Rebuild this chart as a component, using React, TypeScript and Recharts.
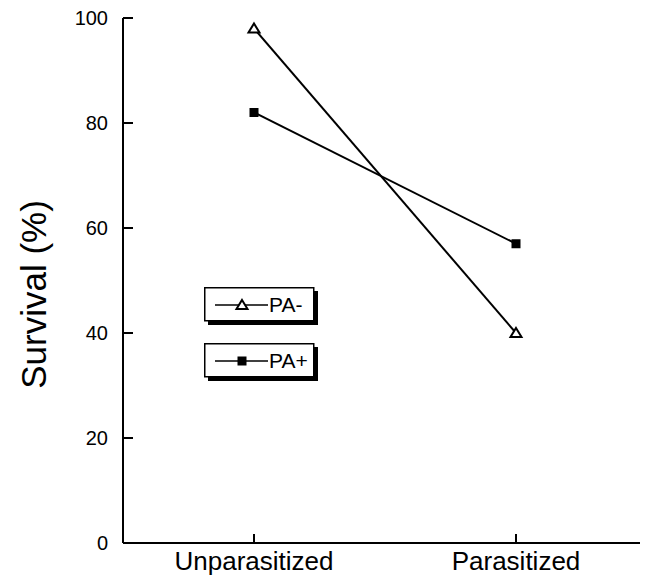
import { Line, LineChart, XAxis, YAxis } from 'recharts'

const categories = ['Unparasitized', 'Parasitized']
const paMinus = [98, 40]
const paPlus = [82, 57]
const yTicks = [0, 20, 40, 60, 80, 100]

const data = categories.map((c, i) => ({ name: c, paMinus: paMinus[i], paPlus: paPlus[i] }))

const FONT = '"Liberation Sans", Arial, Helvetica, sans-serif'

function Triangle({ cx, cy }: { cx?: number; cy?: number }) {
  if (cx == null || cy == null) return null
  return (
    <path
      d={`M${cx},${cy - 5} L${cx + 5.5},${cy + 4} L${cx - 5.5},${cy + 4} Z`}
      fill="#fff"
      stroke="#000"
      strokeWidth={2}
    />
  )
}

function Square({ cx, cy }: { cx?: number; cy?: number }) {
  if (cx == null || cy == null) return null
  return <rect x={cx - 4.5} y={cy - 4.5} width={9} height={9} fill="#000" />
}

// y ticks point inward (to the right of the axis)
function YTick({ x, y, payload }: any) {
  const axisX = x + 15
  return (
    <g>
      <line x1={axisX} y1={y} x2={axisX + 10} y2={y} stroke="#000" strokeWidth={2} />
      <text x={x} y={y} dy={7} textAnchor="end" fontSize={20} fontFamily={FONT} fill="#000">
        {payload.value}
      </text>
    </g>
  )
}

function XTick({ x, y, payload }: any) {
  return (
    <g>
      <line x1={x} y1={y} x2={x} y2={y - 9} stroke="#000" strokeWidth={2} />
      <text x={x} y={y} dy={27} textAnchor="middle" fontSize={26} fontFamily={FONT} fill="#000">
        {payload.value}
      </text>
    </g>
  )
}

function YLabel({ viewBox }: any) {
  const cy = viewBox.y + viewBox.height / 2 + 14
  return (
    <text
      x={33}
      y={cy}
      transform={`rotate(-90 33 ${cy})`}
      textAnchor="middle"
      dominantBaseline="central"
      fontSize={35}
      fontFamily={FONT}
      fill="#000"
    >
      Survival (%)
    </text>
  )
}

function LegendBox({ label, marker }: { label: string; marker: 'tri' | 'sq' }) {
  return (
    <svg width={116} height={40} style={{ display: 'block', overflow: 'visible' }}>
      <rect x={4} y={4} width={110} height={34} fill="#000" />
      <rect x={0.75} y={0.75} width={109} height={33} fill="#fff" stroke="#000" strokeWidth={1.5} />
      <line x1={11} y1={18} x2={64} y2={18} stroke="#000" strokeWidth={1.5} />
      {marker === 'tri' ? <Triangle cx={38} cy={18} /> : <Square cx={38} cy={18} />}
      <text x={65} y={25} fontSize={21} fontFamily={FONT} fill="#000">
        {label}
      </text>
    </svg>
  )
}

export default function App() {
  return (
    <div style={{ position: 'absolute', left: 0, top: 0, width: 650, height: 577, background: '#fff' }}>
      <LineChart
        width={650}
        height={577}
        data={data}
        margin={{ top: 18, right: 10, bottom: 0, left: 0 }}
      >
        <XAxis
          dataKey="name"
          height={34}
          padding={{ left: 131, right: 124 }}
          axisLine={{ stroke: '#000', strokeWidth: 2 }}
          tickLine={false}
          tick={<XTick />}
          tickSize={0}
          tickMargin={0}
          interval={0}
        />
        <YAxis
          width={123}
          domain={[0, 100]}
          ticks={yTicks}
          axisLine={{ stroke: '#000', strokeWidth: 2 }}
          tickLine={false}
          tickSize={0}
          tickMargin={15}
          tick={<YTick />}
          label={<YLabel />}
        />
        <Line
          dataKey="paMinus"
          stroke="#000"
          strokeWidth={2}
          dot={<Triangle />}
          activeDot={false}
          isAnimationActive={false}
        />
        <Line
          dataKey="paPlus"
          stroke="#000"
          strokeWidth={2}
          dot={<Square />}
          activeDot={false}
          isAnimationActive={false}
        />
      </LineChart>
      <div style={{ position: 'absolute', left: 204, top: 287 }}>
        <LegendBox label="PA-" marker="tri" />
      </div>
      <div style={{ position: 'absolute', left: 204, top: 343 }}>
        <LegendBox label="PA+" marker="sq" />
      </div>
    </div>
  )
}
